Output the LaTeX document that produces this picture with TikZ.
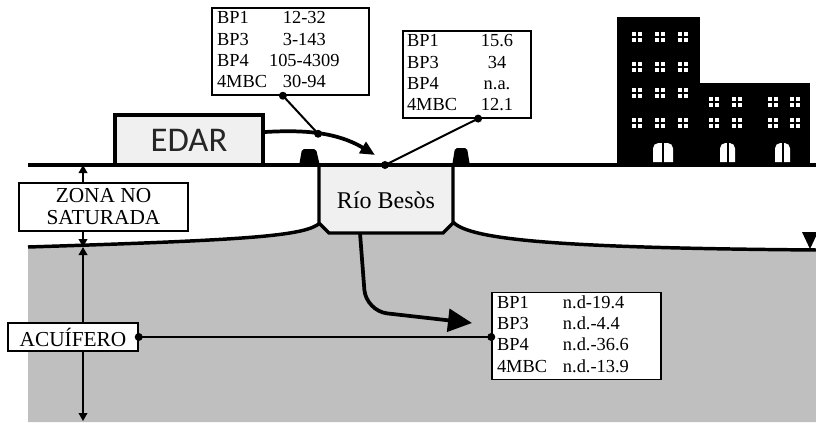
\documentclass[tikz,border=0pt]{standalone}
\usepackage{fontspec}
\setmainfont{Liberation Serif}
\newfontfamily\edarfont{Carlito}
\usepackage{array}
\usetikzlibrary{arrows.meta,calc}
\definecolor{aquifer}{gray}{0.75}
\definecolor{plant}{gray}{0.94}

\begin{document}
\begin{tikzpicture}[x=0.75pt, y=-0.75pt,
    databox/.style={draw, fill=white, line width=1.1pt, inner xsep=3.75pt, inner ysep=0.5pt, align=left, font=\fontsize{13.8}{16}\selectfont},
    zonebox/.style={draw, fill=white, line width=1.1pt, inner sep=1pt, align=center, font=\fontsize{16}{16.5}\selectfont},
    soil/.style={line width=2.6pt},
    flow/.style={line width=2.8pt, -{Triangle[length=11pt,width=9.5pt]}},
    seep/.style={line width=2.8pt, -{Triangle[length=18pt,width=17pt]}},
    dimarrow/.style={line width=1.1pt, -{Triangle[length=6pt,width=6.5pt]}},
    tap/.style={line width=1.5pt}
]
\useasboundingbox (0,0) rectangle (816,422);

% saturated zone and water table
\fill[aquifer] (28,422) -- (28,247) .. controls (250,240) and (305,236) .. (320,223) -- (453,222) .. controls (470,240) and (560,248) .. (818,250) -- (818,422) -- cycle;
\draw[soil] (28,247) .. controls (250,240) and (305,236) .. (320,223);
\draw[soil] (453,222) .. controls (470,240) and (560,248) .. (818,250);
\fill (802,232) -- (818,232) -- (810,249) -- cycle;

% river channel
\draw[soil, fill=plant] (319,165) -- (319,223) -- (329,233) -- (443,233) -- (453,223) -- (453,165);
\node[font=\fontsize{18}{18}\selectfont] (rio) at (386,200) {Río Besòs};
\coordinate (bed) at (360,233);
\coordinate (bank) at (385,165);

% ground surface with levees
\draw[soil] (28,165) -- (818,165);
\fill[rounded corners=1.5pt] (299,166) -- (302,149) -- (316,149) -- (320,166) -- cycle;
\fill[rounded corners=1.5pt] (452,166) -- (455,148) -- (467,148) -- (470,166) -- cycle;

% treatment plant
\node[draw, fill=plant, line width=2.6pt, minimum width=111pt, minimum height=37.5pt, text=black!85, font=\edarfont\fontsize{26}{26}\selectfont] (edar) at (189,140) {EDAR};

% town
\fill (617,17) rectangle (700,166);
\fill (700,83) rectangle (810,166);
\foreach \x in {637,660,683}
  \foreach \y in {37,67,93,123} {
    \fill[white] (\x-5,\y-5) rectangle (\x+5,\y+5);
    \draw[line width=1.5pt] (\x-5,\y) -- (\x+5,\y) (\x,\y-5) -- (\x,\y+5);
  }
\foreach \x in {714,737,773,795}
  \foreach \y in {102,123} {
    \fill[white] (\x-5,\y-5) rectangle (\x+5,\y+5);
    \draw[line width=1.5pt] (\x-5,\y) -- (\x+5,\y) (\x,\y-5) -- (\x,\y+5);
  }
\foreach \a/\b in {653/673,720/735,775/790} {
  \fill[white, rounded corners=4pt] (\a,162) -- (\a,143) -- (\b,143) -- (\b,162);
  \draw[line width=1.5pt] ({(\a+\b)/2},142) -- ({(\a+\b)/2},163);
}

% concentration boxes
\node[databox, text width=110.25pt, minimum height=65.25pt] (efl) at (290.5,51.5) {%
  \begin{tabular}{@{}p{38pt}@{}>{\centering\arraybackslash}p{55pt}@{}}
  BP1 & 12-32\\ BP3 & 3-143\\ BP4 & 105-4309\\ 4MBC & 30-94
  \end{tabular}};
\node[databox, inner xsep=3pt, text width=90pt, minimum height=63.75pt] (rdat) at (467,74.5) {%
  \begin{tabular}{@{}p{50pt}@{}>{\centering\arraybackslash}p{35pt}@{}}
  BP1 & 15.6\\ BP3 & 34\\ BP4 & n.a.\\ 4MBC & 12.1
  \end{tabular}};
\node[databox, text width=119.25pt, minimum height=64.5pt] (adat) at (576.5,336) {%
  \begin{tabular}{@{}p{49.5pt}@{}l@{}}
  BP1 & n.d-19.4\\ BP3 & n.d.-4.4\\ BP4 & n.d.-36.6\\ 4MBC & n.d.-13.9
  \end{tabular}};

% zone labels
\node[zonebox, minimum width=126.75pt, minimum height=36pt] (zns) at (103.5,207) {ZONA NO\\SATURADA};
\node[zonebox, minimum width=97.5pt, minimum height=21pt] (acuifero) at (73,337) {ACUÍFERO};

% depth arrows
\coordinate (gl) at (83,165);
\coordinate (wt) at (83,247);
\coordinate (bt) at (83,421);
\draw[dimarrow] (zns.north -| gl) -- (gl);
\draw[dimarrow] (zns.south -| gl) -- (wt);
\draw[dimarrow] (acuifero.north -| gl) -- (wt);
\draw[dimarrow] (acuifero.south -| gl) -- (bt);

% effluent discharge and infiltration
\draw[flow] ([yshift=6pt]edar.east) .. controls (300,130) and (335,131) .. coordinate[pos=0.5] (mix) (375,155);
\coordinate (plume) at (472,323);
\draw[seep, rounded corners=16pt] (bed) -- (366,311) -- (plume);

% sampling points
\coordinate (effin) at ($(efl.south west)!0.452!(efl.south east)$);
\coordinate (rioin) at ($(rdat.south west)!0.586!(rdat.south east)$);
\draw[tap] (effin) -- (mix);
\draw[tap] (rioin) -- (bank);
\draw[tap] (acuifero.east) -- (acuifero.east -| adat.west);
\foreach \p in {effin, mix, rioin, bank}
  \fill (\p) circle (3pt);
\fill (acuifero.east) circle (3pt);
\fill (acuifero.east -| adat.west) circle (3pt);

\end{tikzpicture}
\end{document}
